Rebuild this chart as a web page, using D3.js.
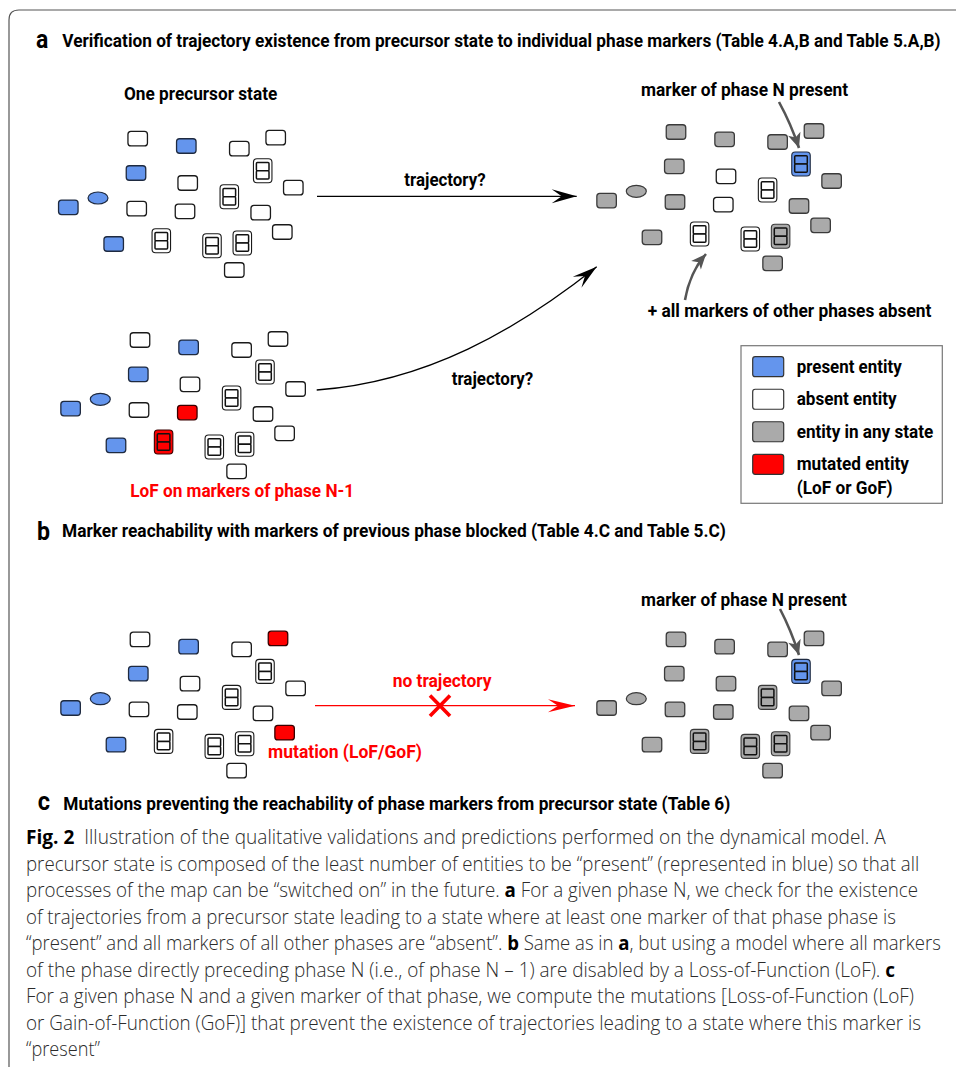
<!DOCTYPE html>
<html>
<head>
<meta charset="utf-8">
<script src="https://cdn.jsdelivr.net/npm/d3@7"></script>
<style>
  body { margin: 0; background: #fff; }
</style>
</head>
<body>
<svg id="fig" width="956" height="1067"></svg>
<script>
// one entity map, drawn five times with different states
const nodeX = [137.7, 186.3, 239.3, 275.7, 136, 187.7, 262.7, 293.3, 229.3, 98,
               68.3, 136.7, 185, 260.7, 282.3, 113.7, 161.3, 212, 242.3, 234.3];
const nodeY = [138.7, 146, 148.7, 137.7, 173, 183, 170.7, 187.7, 196.7, 198,
               207.3, 208.7, 211.3, 212.7, 232, 244, 240.7, 245.7, 243, 270];
const nodeKind = "rrrrrrcrcerrrrrrcccr".split(""); // r entity, c complex, e small molecule

// P present, A absent, X any state, M mutated
const statePrecursorA = "APAAPAAAAPPAAAAPAAAA".split("");
const stateTargetA    = "XXXXXAPXAXXXAXXXAAXX".split("");
const stateLofB       = "APAAPAAAAPPAMAAPMAAA".split("");
const stateMutC       = "APAMPAAAAPPAAAMPAAAA".split("");
const stateTargetC    = "XXXXXXPXXXXXXXXXXXXX".split("");

const clusterStates = [statePrecursorA, stateTargetA, stateLofB, stateMutC, stateTargetC];
const clusterDX = [0, 538.3, 2.3, 2.3, 538.3];
const clusterDY = [0, -6.7, 201.3, 500.7, 500.7];

const legendKeys = ["P", "A", "X", "M"];
const legendLabels = [["present entity"], ["absent entity"], ["entity in any state"], ["mutated entity", "(LoF or GoF)"]];

const captionLines = [
  "**Fig. 2**  Illustration of the qualitative validations and predictions performed on the dynamical model. A",
  "precursor state is composed of the least number of entities to be \u201cpresent\u201d (represented in blue) so that all",
  "processes of the map can be \u201cswitched on\u201d in the future. **a** For a given phase N, we check for the existence",
  "of trajectories from a precursor state leading to a state where at least one marker of that phase phase is",
  "\u201cpresent\u201d and all markers of all other phases are \u201cabsent\u201d. **b** Same as in **a**, but using a model where all markers",
  "of the phase directly preceding phase N (i.e., of phase N \u2013 1) are disabled by a Loss-of-Function (LoF). **c**",
  "For a given phase N and a given marker of that phase, we compute the mutations [Loss-of-Function (LoF)",
  "or Gain-of-Function (GoF)] that prevent the existence of trajectories leading to a state where this marker is",
  "\u201cpresent\u201d"
];
const captionEnds = [886.3, 919.7, 918.7, 896.3, 941.3, 895.3, 914.7, 921.3, 100];

const fill = d3.scaleOrdinal().domain(["P", "A", "X", "M"]).range(["#6495ed", "#ffffff", "#aaaaaa", "#ff0000"]);
const edge = d3.scaleOrdinal().domain(["P", "A", "X", "M"]).range(["#1e2a40", "#1a1a1a", "#3a3a3a", "#3a0000"]);

const svg = d3.select("#fig");
const defs = svg.append("defs");

function marker(id, color, len, half, notch) {
  defs.append("marker")
    .attr("id", id)
    .attr("markerUnits", "userSpaceOnUse")
    .attr("viewBox", `${-len} ${-half} ${len} ${2 * half}`)
    .attr("refX", 0).attr("refY", 0)
    .attr("markerWidth", len).attr("markerHeight", 2 * half)
    .attr("orient", "auto")
    .style("overflow", "visible")
    .append("path")
    .attr("d", `M0,0L${-len},${-half}L${-len + notch},0L${-len},${half}Z`)
    .attr("fill", color);
}
marker("arrK", "#000", 25, 7, 10);
marker("arrR", "#ff0000", 27, 6.5, 10);
marker("arrG", "#555", 15, 6.5, 4);

// squeeze a text horizontally so it spans x0..x1
function fit(t, x0, x1, base) {
  const w = t.node().getComputedTextLength();
  t.attr("x", 0).attr("y", 0)
    .attr("transform", `translate(${x0},${base}) scale(${(x1 - x0) / w},1)`);
}

// frame
svg.append("path")
  .attr("d", "M9,1067V20Q9,10 19,10H956")
  .attr("fill", "none").attr("stroke", "#555").attr("stroke-width", 1.2);

// entity maps
clusterStates.forEach((st, k) => {
  const x = d3.scaleLinear().domain([0, 956]).range([clusterDX[k], 956 + clusterDX[k]]);
  const y = d3.scaleLinear().domain([0, 1067]).range([clusterDY[k], 1067 + clusterDY[k]]);
  const g = svg.append("g");
  const nodes = g.selectAll("g").data(d3.range(nodeX.length)).join("g")
    .attr("transform", i => `translate(${x(nodeX[i])},${y(nodeY[i])})`);

  nodes.filter(i => nodeKind[i] === "r").append("rect")
    .attr("x", -9.75).attr("y", -7.25).attr("width", 19.5).attr("height", 14.5).attr("rx", 3)
    .attr("fill", i => fill(st[i])).attr("stroke", i => edge(st[i])).attr("stroke-width", 1.3);

  nodes.filter(i => nodeKind[i] === "e").append("ellipse")
    .attr("rx", 10).attr("ry", 6)
    .attr("fill", i => fill(st[i])).attr("stroke", i => edge(st[i])).attr("stroke-width", 1.2);

  const cx = nodes.filter(i => nodeKind[i] === "c");
  cx.append("rect")
    .attr("x", -9.25).attr("y", -12).attr("width", 18.5).attr("height", 24).attr("rx", 3.5)
    .attr("fill", i => fill(st[i])).attr("stroke", i => edge(st[i])).attr("stroke-width", 1.1);
  [-8.3, 0].forEach(dy => {
    cx.append("rect")
      .attr("x", -6.3).attr("y", dy).attr("width", 12.6).attr("height", 8.3).attr("rx", 1)
      .attr("fill", i => fill(st[i])).attr("stroke", "#111").attr("stroke-width", 1.5);
  });
});

// arrows
svg.append("path").attr("d", "M317,196.3H576.7")
  .attr("stroke", "#000").attr("stroke-width", 1.3).attr("fill", "none").attr("marker-end", "url(#arrK)");
svg.append("path").attr("d", "M316.7,390C426.7,382 516.7,330 596.7,266.7")
  .attr("stroke", "#000").attr("stroke-width", 1.3).attr("fill", "none").attr("marker-end", "url(#arrK)");
svg.append("path").attr("d", "M315,705.7H575")
  .attr("stroke", "#ff0000").attr("stroke-width", 1.3).attr("fill", "none").attr("marker-end", "url(#arrR)");
["M779,102Q791,124 799,148", "M685,300Q690,272 706,254", "M780,609Q791,630 799,655"].forEach(d => {
  svg.append("path").attr("d", d)
    .attr("stroke", "#555").attr("stroke-width", 2.6).attr("fill", "none").attr("marker-end", "url(#arrG)");
});
// blocked trajectory cross
svg.append("path").attr("d", "M430,695.5L450,716M450,695.5L430,716")
  .attr("stroke", "#ff0000").attr("stroke-width", 3.6).attr("fill", "none");

// labels
function label(x0, x1, base, txt, size, color) {
  const t = svg.append("text")
    .attr("font-family", "Roboto, sans-serif").attr("font-weight", 700)
    .attr("font-size", size).attr("fill", color || "#000")
    .text(txt);
  fit(t, x0, x1, base);
}
label(36, 48.3, 48, "a", 26);
label(62.3, 941.7, 46.8, "Verification of trajectory existence from precursor state to individual phase markers (Table 4.A,B and Table 5.A,B)", 18);
label(124, 277.3, 99.5, "One precursor state", 18);
label(404.3, 485.7, 186, "trajectory?", 18);
label(641, 848.3, 96, "marker of phase N present", 18);
label(647.7, 931.7, 317, "+ all markers of other phases absent", 18);
label(451.7, 533.3, 384.5, "trajectory?", 18);
label(130.3, 354.3, 497, "LoF on markers of phase N-1", 18, "#ff0000");
label(37, 50, 539.5, "b", 26);
label(62, 726, 536.5, "Marker reachability with markers of previous phase blocked (Table 4.C and Table 5.C)", 18);
label(392.7, 491.7, 686.5, "no trajectory", 18, "#ff0000");
label(268, 422, 757.5, "mutation (LoF/GoF)", 18, "#ff0000");
label(641, 847.3, 605.5, "marker of phase N present", 18);
label(37.7, 50, 810, "c", 26);
label(63.3, 730.7, 809.5, "Mutations preventing the reachability of phase markers from precursor state (Table 6)", 18);

// legend
svg.append("rect").attr("x", 741).attr("y", 345.7).attr("width", 201.3).attr("height", 157.6)
  .attr("fill", "#fff").attr("stroke", "#777").attr("stroke-width", 1.2);
const legY = d3.scalePoint().domain(legendKeys).range([366.7, 464.3]);
const legendEnds = [[901.7], [896.7], [933.3], [909, 892.7]];
legendKeys.forEach((k, i) => {
  svg.append("rect").attr("x", 752.7).attr("y", legY(k) - 10).attr("width", 31).attr("height", 20).attr("rx", 2.5)
    .attr("fill", fill(k)).attr("stroke", "#333").attr("stroke-width", 1.2);
  legendLabels[i].forEach((t, j) => label(796.7, legendEnds[i][j], legY(k) + 6 + j * 24, t, 17.5));
});

// caption
const capY = d3.scaleLinear().domain([0, 8]).range([844, 1056]);
captionLines.forEach((line, i) => {
  const t = svg.append("text")
    .attr("font-family", "'Open Sans', sans-serif").attr("font-size", 20).attr("fill", "#333")
    .attr("xml:space", "preserve");
  line.split("**").forEach((part, j) => {
    if (!part) return;
    t.append("tspan").text(part)
      .attr("font-weight", j % 2 ? 700 : 300)
      .attr("fill", j % 2 ? "#000" : "#2b2b2b");
  });
  fit(t, 26, captionEnds[i], capY(i));
});
</script>
</body>
</html>
